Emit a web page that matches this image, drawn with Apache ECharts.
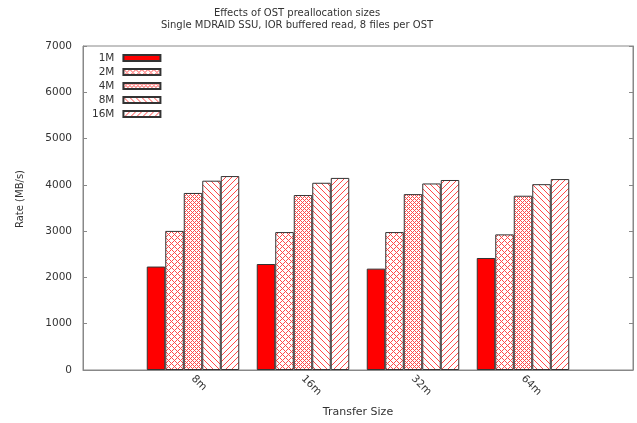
<!DOCTYPE html>
<html>
<head>
<meta charset="utf-8">
<script src="https://cdn.jsdelivr.net/npm/echarts@6/dist/echarts.min.js"></script>
<style>
  html, body { margin: 0; padding: 0; background: #fff; }
  #chart { width: 637px; height: 423px; }
</style>
</head>
<body>
<div id="chart"></div>
<script>
// Transfer sizes along the x axis; the blank ends pad the range on both sides.
const categories = ['', '8m', '16m', '32m', '64m', ''];
// Preallocation sizes, one series each.
const seriesNames = ['1M', '2M', '4M', '8M', '16M'];
// Read rates in MB/s.
const rate1M  = ['-', 2235, 2290, 2190, 2420, '-'];
const rate2M  = ['-', 3005, 2980, 2980, 2930, '-'];
const rate4M  = ['-', 3825, 3780, 3800, 3765, '-'];
const rate8M  = ['-', 4090, 4045, 4030, 4015, '-'];
const rate16M = ['-', 4190, 4150, 4105, 4125, '-'];
const yTicks = { min: 0, max: 7000, interval: 1000 };

const FONT = 'DejaVu Sans';
const TEXT = '#333';
const FRAME = '#888';
const HATCH = '#ff4a4a';

// Pixel-exact tiles for the hatched fills.
function makePattern(size, pixelsAt) {
  const c = document.createElement('canvas');
  c.width = size; c.height = size;
  const ctx = c.getContext('2d');
  ctx.fillStyle = '#fff';
  ctx.fillRect(0, 0, size, size);
  ctx.fillStyle = HATCH;
  for (let y = 0; y < size; y++) {
    for (let x = 0; x < size; x++) {
      if (pixelsAt(x, y, size)) ctx.fillRect(x, y, 1, 1);
    }
  }
  return { image: c, repeat: 'repeat' };
}
const back = (x, y, s) => x === y;
const fwd = (x, y, s) => (x + y) % s === 0;
const fills = [
  '#ff0000',
  makePattern(6, (x, y, s) => back(x, y, s) || fwd(x, y, s)),
  makePattern(4, (x, y, s) => back(x, y, s) || fwd(x, y, s)),
  makePattern(6, back),
  makePattern(6, fwd)
];
const values = [rate1M, rate2M, rate4M, rate8M, rate16M];

const chart = echarts.init(document.getElementById('chart'), null, { renderer: 'canvas' });

const series = seriesNames.map((name, i) => ({
  name: name,
  type: 'bar',
  data: values[i],
  barWidth: 18.5,
  barGap: '0%',
  itemStyle: { color: fills[i], borderColor: '#333', borderWidth: 1 },
  emphasis: { disabled: true }
}));

chart.setOption({
  animation: false,
  backgroundColor: '#fff',
  title: {
    text: 'Effects of OST preallocation sizes\nSingle MDRAID SSU, IOR buffered read, 8 files per OST',
    left: 292,
    textAlign: 'center',
    top: 2,
    textStyle: { fontFamily: FONT, fontSize: 10, fontWeight: 'normal', color: TEXT, lineHeight: 12 }
  },
  legend: {
    orient: 'vertical',
    left: 87,
    top: 47,
    align: 'right',
    itemWidth: 37,
    itemHeight: 6,
    itemGap: 2,
    icon: 'rect',
    selectedMode: false,
    textStyle: { fontFamily: FONT, fontSize: 10.5, color: TEXT, lineHeight: 12, padding: [0, 4, 0, 0] },
    data: seriesNames
  },
  grid: {
    left: 83, right: 4, top: 46, bottom: 52,
    show: true, borderColor: FRAME, borderWidth: 1,
    containLabel: false
  },
  xAxis: {
    type: 'category',
    data: categories,
    boundaryGap: false,
    name: 'Transfer Size',
    nameLocation: 'middle',
    nameGap: 37,
    nameTextStyle: { fontFamily: FONT, fontSize: 11, color: TEXT },
    axisLine: { show: true, lineStyle: { color: FRAME } },
    axisTick: { show: false },
    axisLabel: { rotate: -45, margin: 7, fontFamily: FONT, fontSize: 10.5, color: TEXT, interval: 0 },
    splitLine: { show: false }
  },
  yAxis: [
    {
      type: 'value',
      min: yTicks.min, max: yTicks.max, interval: yTicks.interval,
      name: 'Rate (MB/s)',
      nameLocation: 'middle',
      nameGap: 58,
      nameTextStyle: { fontFamily: FONT, fontSize: 10, color: TEXT, padding: [0, 0, 0, 18] },
      axisLine: { show: true, lineStyle: { color: FRAME } },
      axisTick: { show: true, inside: true, length: 4, lineStyle: { color: FRAME } },
      axisLabel: { margin: 11, fontFamily: FONT, fontSize: 10.5, color: TEXT, formatter: (v) => String(v) },
      splitLine: { show: false }
    },
    {
      type: 'value',
      position: 'right',
      min: yTicks.min, max: yTicks.max, interval: yTicks.interval,
      axisLine: { show: true, lineStyle: { color: FRAME } },
      axisTick: { show: true, inside: true, length: 4, lineStyle: { color: FRAME } },
      axisLabel: { show: false },
      splitLine: { show: false }
    }
  ],
  series: series
});
</script>
</body>
</html>
